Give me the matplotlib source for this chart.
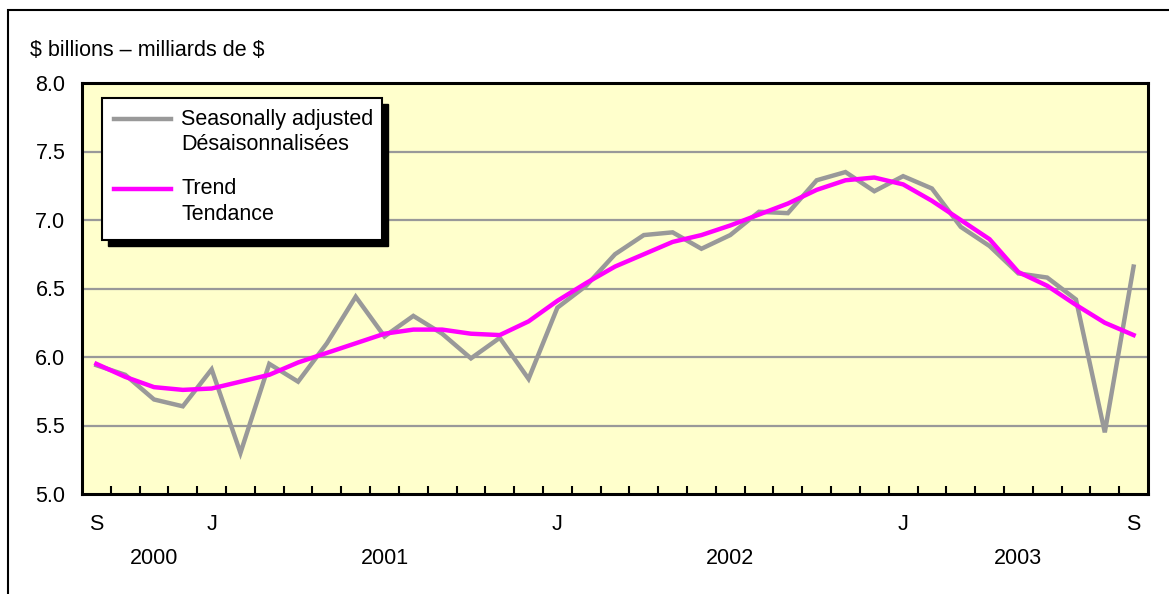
import matplotlib
matplotlib.use("Agg")
import matplotlib.pyplot as plt
from matplotlib.patches import Rectangle
from matplotlib.lines import Line2D

# ---- data (Sep 2000 .. Sep 2003, monthly) ----
seasonally_adjusted = [5.94, 5.87, 5.69, 5.64, 5.91, 5.30, 5.95, 5.82, 6.10, 6.44,
                       6.15, 6.30, 6.17, 5.99, 6.14, 5.84, 6.36, 6.52, 6.75, 6.89,
                       6.91, 6.79, 6.89, 7.06, 7.05, 7.29, 7.35, 7.21, 7.32, 7.23,
                       6.95, 6.81, 6.61, 6.58, 6.42, 5.45, 6.66]
trend = [5.95, 5.855, 5.78, 5.76, 5.77, 5.82, 5.87, 5.96, 6.03, 6.10,
         6.17, 6.20, 6.20, 6.17, 6.16, 6.26, 6.41, 6.54, 6.66, 6.75,
         6.84, 6.89, 6.96, 7.04, 7.12, 7.22, 7.29, 7.31, 7.26, 7.14,
         7.00, 6.86, 6.62, 6.52, 6.38, 6.25, 6.16]
month_label_pos = [0, 4, 16, 28, 36]
month_labels = ["S", "J", "J", "J", "S"]
year_label_pos = [2, 10, 22, 32]
year_labels = ["2000", "2001", "2002", "2003"]
y_ticks = [5.0, 5.5, 6.0, 6.5, 7.0, 7.5, 8.0]
y_label = "\\$ billions \u2013 milliards de \\$"
legend_labels = [("Seasonally adjusted", "D\u00e9saisonnalis\u00e9es"), ("Trend", "Tendance")]

plt.rcParams['font.family'] = ['Liberation Sans', 'DejaVu Sans']
FS = 15.5

W, H = 1169, 594
fig = plt.figure(figsize=(W / 100, H / 100), dpi=100)
fig.patch.set_facecolor('white')

def fx(px):
    return px / W

def fy(py):
    return 1 - py / H

# outer border (top and left visible)
fig.add_artist(Rectangle((fx(8), fy(620)), fx(1200), fy(10) - fy(620),
                         transform=fig.transFigure, fill=False, edgecolor='black',
                         linewidth=1.5, clip_on=False))

ax = fig.add_axes([fx(82), fy(494), fx(1148) - fx(82), fy(83) - fy(494)])
ax.set_facecolor('#FFFFCC')
x = list(range(len(seasonally_adjusted)))

for yv in y_ticks[1:-1]:
    ax.axhline(yv, color='#999999', linewidth=1.6, zorder=1)

ax.plot(x, seasonally_adjusted, color='#999999', linewidth=3.2, zorder=3,
        solid_joinstyle='miter')
ax.plot(x, trend, color='#FF00FF', linewidth=3.2, zorder=4)

ax.set_xlim(-0.5, len(x) - 0.5)
ax.set_ylim(5.0, 8.0)
ax.set_yticks(y_ticks)
ax.set_yticklabels([f"{v:.1f}" for v in y_ticks], fontsize=FS)
ax.tick_params(axis='y', length=0, pad=12)
ax.set_xticks([i + 0.5 for i in range(len(x) - 1)])
ax.set_xticklabels([])
ax.tick_params(axis='x', direction='in', length=6, width=1.5, color='black')
for s in ax.spines.values():
    s.set_linewidth(2.2)
    s.set_color('black')

xt = ax.get_xaxis_transform()
for p, lab in zip(month_label_pos, month_labels):
    ax.text(p, (494 - 524) / (494 - 83), lab, transform=xt,
            ha='center', va='center', fontsize=FS, clip_on=False)
for p, lab in zip(year_label_pos, year_labels):
    ax.text(p, (494 - 559) / (494 - 83), lab, transform=xt,
            ha='center', va='center', fontsize=FS, clip_on=False)

fig.text(fx(30), fy(50), y_label, ha='left', va='center', fontsize=FS)

# legend (drawn manually to match the boxed style with black shadow)
lx0, ly0, lx1, ly1 = 102, 98, 382, 240
fig.add_artist(Rectangle((fx(lx0 + 6), fy(ly1 + 6)), fx(lx1 - lx0), fy(ly0) - fy(ly1),
                         transform=fig.transFigure, facecolor='black', edgecolor='black',
                         zorder=10))
fig.add_artist(Rectangle((fx(lx0), fy(ly1)), fx(lx1 - lx0), fy(ly0) - fy(ly1),
                         transform=fig.transFigure, facecolor='white', edgecolor='black',
                         linewidth=1.5, zorder=11))
for (l1, l2), col, yy in zip(legend_labels, ['#999999', '#FF00FF'], [119, 189]):
    fig.add_artist(Line2D([fx(114), fx(171)], [fy(yy), fy(yy)], transform=fig.transFigure,
                          color=col, linewidth=3.2, zorder=12))
    fig.text(fx(181), fy(yy), l1, ha='left', va='center', fontsize=FS, zorder=12)
    fig.text(fx(181), fy(yy + 25), l2, ha='left', va='center', fontsize=FS, zorder=12)

fig.savefig('out.png', dpi=100, facecolor='white')
